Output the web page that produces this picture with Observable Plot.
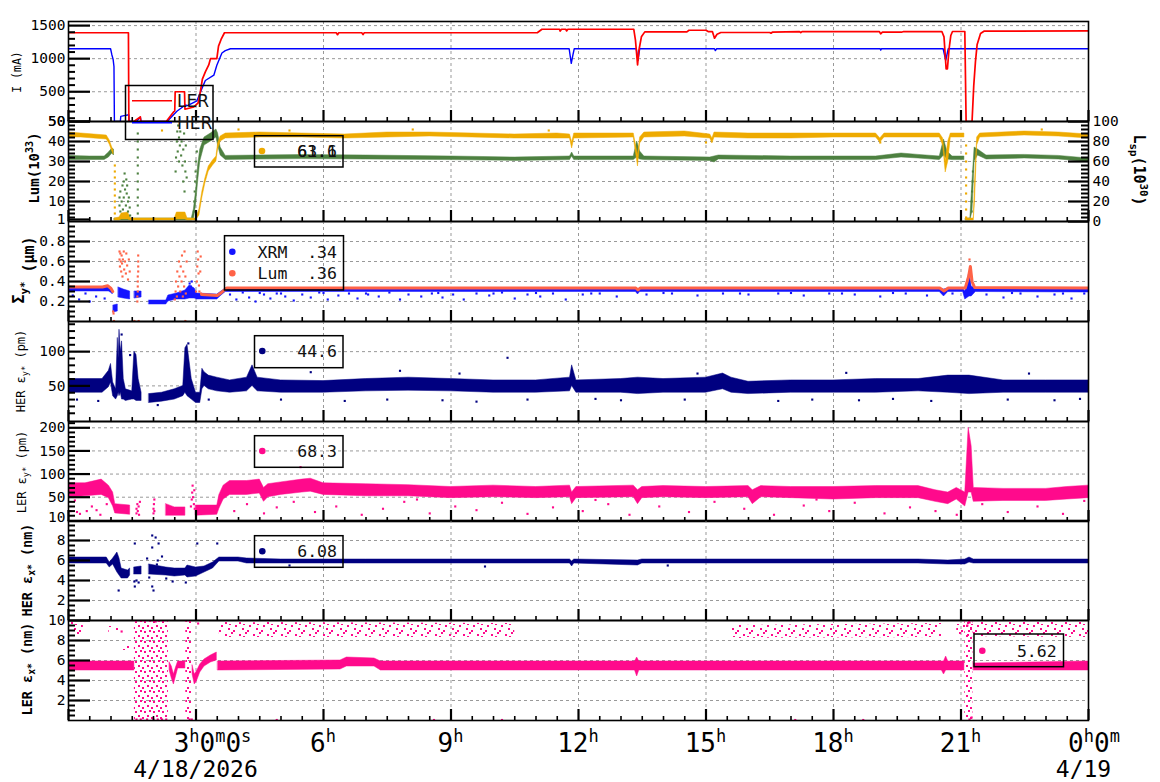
<!DOCTYPE html>
<html><head><meta charset="utf-8">
<script src="https://cdn.jsdelivr.net/npm/d3@7"></script>
<script src="https://cdn.jsdelivr.net/npm/@observablehq/plot@0.6"></script>
<style>
body{margin:0;background:#fff;}
#wrap{position:relative;width:1160px;height:782px;background:#fff;overflow:hidden;}
#wrap svg{position:absolute;left:0;}
</style></head><body>
<svg width="0" height="0" style="position:absolute">
  <defs>
    <pattern id="speckPink" width="14" height="12" patternUnits="userSpaceOnUse">
      <rect x="1" y="2" width="2" height="2" fill="#ff0a8c"/>
      <rect x="7" y="0" width="2" height="2" fill="#ff0a8c"/>
      <rect x="11" y="5" width="2" height="2" fill="#ff0a8c"/>
      <rect x="4" y="8" width="2" height="2" fill="#ff0a8c"/>
      <rect x="9" y="10" width="2" height="2" fill="#ff0a8c"/>
      <rect x="5" y="4" width="2" height="1" fill="#ff0a8c"/>
    </pattern>
    <pattern id="chaosPink" width="9" height="10" patternUnits="userSpaceOnUse">
      <rect x="0" y="1" width="2" height="2" fill="#ff0a8c"/>
      <rect x="5" y="0" width="2" height="2" fill="#ff0a8c"/>
      <rect x="3" y="5" width="2" height="2" fill="#ff0a8c"/>
      <rect x="7" y="7" width="2" height="2" fill="#ff0a8c"/>
    </pattern>
  </defs>
</svg>
<div id="wrap"></div>
<script>
// ---------- DATA (hours since 0h 4/18/2026) ----------
const lerCurrent = [[0,1392],[1.41,1392],[1.42,50],[1.54,50],[1.69,120],[1.70,50],[2.3,50],[2.48,200],[2.5,210],[2.51,500],[2.73,500],[2.74,235],[2.95,270],[3.05,330],[3.1,490],[3.15,690],[3.22,800],[3.3,905],[3.34,1000],[3.49,1000],[3.53,1190],[3.59,1290],[3.67,1392],[6.3,1392],[6.33,1362],[6.36,1392],[6.9,1392],[6.93,1365],[6.96,1392],[11.03,1392],[11.14,1445],[11.55,1445],[11.57,1418],[11.6,1445],[11.7,1445],[11.72,1420],[11.75,1445],[13.3,1445],[13.34,1280],[13.39,905],[13.42,1120],[13.48,1330],[13.56,1405],[14.55,1405],[14.6,1430],[15.0,1430],[15.05,1410],[15.15,1410],[15.2,1310],[15.26,1370],[15.35,1396],[16.5,1396],[16.53,1385],[16.56,1400],[17.2,1410],[17.23,1395],[17.26,1410],[19.08,1410],[19.11,1375],[19.15,1400],[19.6,1400],[19.65,1410],[20.55,1410],[20.6,1330],[20.65,845],[20.68,845],[20.72,1150],[20.76,1350],[20.8,1411],[21.09,1411],[21.12,50],[21.26,50],[21.3,593],[21.34,956],[21.38,1215],[21.46,1380],[21.54,1415],[24,1420]];
const herCurrent = [[0,1150],[0.99,1150],[1.02,1060],[1.05,990],[1.07,880],[1.08,50],[1.22,50],[1.23,127],[1.31,139],[1.42,152],[1.43,50],[1.6,50],[1.69,116],[1.71,50],[2.32,50],[2.55,205],[2.75,300],[2.8,290],[3.02,360],[3.1,490],[3.22,670],[3.42,750],[3.49,900],[3.61,1085],[3.69,1122],[3.81,1150],[11.78,1150],[11.8,1060],[11.83,930],[11.87,1060],[11.9,1150],[13.36,1150],[13.4,975],[13.44,1150],[15.2,1150],[15.22,1122],[15.25,1150],[19.1,1150],[19.11,1130],[19.13,1150],[20.58,1150],[20.64,975],[20.7,1150],[24,1150]];

// luminosity bands [t, low, high]
const lumGold = [[0,42,44.5],[0.3,42,44],[0.6,41.5,43.5],[0.9,41,43],[0.97,38.5,40.5],[1.02,35.5,37.5],[1.06,33.5,35.5],[1.07,NaN,NaN],[1.09,0.5,1.5],[1.2,0.5,2],[1.25,1,4],[1.4,1,4.5],[1.47,0.5,1.5],[2.5,0.5,1.5],[2.55,1,4.5],[2.75,1,4.5],[2.8,0.5,1.5],[3.0,0.5,1.5],[3.08,3,6],[3.15,12,15],[3.22,19,21.5],[3.3,25,27.5],[3.4,28,30.5],[3.48,30,32.5],[3.52,36,39],[3.58,40,42.5],[3.7,41.5,44],[4.5,42,44.5],[5.5,42,44],[6.5,41.5,43.5],[7.5,42,44.5],[8.5,42.5,44.5],[9.5,42,44],[10.5,41.5,43.5],[11.5,41.5,44],[11.8,41.5,43.5],[11.85,36.5,39.5],[11.9,41.5,44],[13.3,42,44],[13.4,27.5,33],[13.45,39,42],[13.55,42,44.5],[14.5,42.5,45],[15.1,41.5,43.5],[15.15,39,41.5],[15.2,42,44.5],[16,41.5,44],[17,41.5,44],[18,42,44],[19,42,44],[19.1,39.5,41.5],[19.2,42,44],[20.5,42,44],[20.58,38,41.5],[20.64,24.5,30],[20.7,30,40],[20.76,42,44],[21.08,42,44],[21.1,NaN,NaN],[21.12,0.5,1.5],[21.3,0.5,1.5],[21.33,10,20],[21.38,38,42],[21.45,42,44],[22.5,43,45],[23.3,42.5,44.5],[24,41.5,43.5]];
const lumGreen = [[0,30.8,32.8],[0.5,30.8,32.5],[0.85,30.8,32.5],[0.95,32,34.5],[1.03,34,36.5],[1.07,33,36],[1.08,NaN,NaN],[1.09,0.5,1.5],[2.9,0.5,1.5],[2.95,1,6],[3.0,8,15],[3.05,20,28],[3.1,30,36],[3.2,38,42],[3.35,40,44],[3.48,42,46],[3.52,38,44],[3.58,33,37],[3.7,30.8,32.8],[5.5,31.2,33.2],[7,31,33],[9,30.7,32.5],[10.5,30.3,32],[11.8,30.7,32.5],[11.85,32.5,34.5],[11.9,30.7,32.5],[13.3,30.7,32.5],[13.38,32,40],[13.45,31,35],[13.55,30.7,32.5],[15.1,30.3,32],[15.2,29.5,32.5],[15.3,31,33],[17,30.7,32.5],[19,30.7,32.5],[19.6,32,34],[20,31.5,33.3],[20.5,30.7,32.5],[20.6,33,41],[20.68,31,35],[20.8,30.7,32.5],[21.08,30.7,32.5],[21.1,NaN,NaN],[21.12,0.5,1.5],[21.22,0.5,1.5],[21.27,5,20],[21.32,30,37],[21.4,33,36],[21.6,31,33],[22.5,31.5,33.3],[23.3,31,32.8],[24,29.8,31.5]];
const goldDots = [[1.09,28],[1.09,25],[1.09,22],[1.09,19],[1.09,16],[1.09,13],[1.09,10],[1.09,7],[1.09,4],[21.12,38],[21.12,34],[21.12,30],[21.12,26],[21.12,22],[21.12,18],[21.12,14],[21.12,10],[21.12,6],[21.12,2],[5.2,45.5],[8.1,46],[11.3,45.5],[15.0,39.5],[19.1,39.5],[22.9,46],[2.2,45.5],[4.0,46]];
const greenDots = [[1.2,8],[1.2,12],[1.22,5],[1.22,15],[1.25,10],[1.27,18],[1.28,6],[1.3,20],[1.3,12],[1.32,24],[1.33,16],[1.35,8],[1.36,21],[1.37,14],[1.38,18],[1.4,10],[1.4,5],[1.42,12],[1.44,7],[1.45,3],[1.63,4],[1.63,8],[1.63,12],[1.63,16],[1.63,20],[1.63,24],[1.63,28],[1.63,32],[1.63,36],[1.63,40],[1.63,44],[2.52,25],[2.53,32],[2.55,40],[2.56,45],[2.57,35],[2.58,48],[2.6,42],[2.6,30],[2.62,38],[2.63,45],[2.65,33],[2.66,40],[2.68,28],[2.7,36],[2.7,20],[2.72,44],[2.73,15],[2.74,30],[2.75,25],[2.76,38],[2.78,22],[2.95,5],[2.96,10],[2.97,15],[2.98,20],[2.99,25],[3.0,30],[3.02,35],[21.25,5],[21.25,10],[21.26,15],[21.27,20],[21.28,25]];

// vertical beam size
const xrmBand = [[0,0.3,0.34],[0.95,0.3,0.34],[1.03,0.28,0.31],[1.04,0.27,0.3],[1.05,NaN,NaN],[1.06,0.09,0.16],[1.16,0.1,0.17],[1.17,NaN,NaN],[1.18,0.24,0.34],[1.3,0.23,0.32],[1.45,0.22,0.3],[1.46,NaN,NaN],[1.56,0.23,0.3],[1.72,0.24,0.3],[1.73,NaN,NaN],[1.9,0.17,0.21],[2.3,0.17,0.21],[2.35,0.2,0.26],[2.55,0.22,0.28],[2.75,0.22,0.31],[2.85,0.23,0.36],[2.97,0.23,0.33],[3.02,0.22,0.28],[3.5,0.22,0.27],[3.6,0.26,0.3],[3.7,0.295,0.33],[6,0.295,0.33],[9,0.295,0.33],[12,0.295,0.33],[13.35,0.295,0.33],[13.4,0.27,0.32],[13.45,0.295,0.33],[17,0.295,0.33],[20.5,0.295,0.33],[20.6,0.25,0.32],[20.7,0.295,0.33],[21.05,0.295,0.33],[21.1,0.22,0.3],[21.2,0.25,0.5],[21.25,0.25,0.35],[21.35,0.295,0.33],[24,0.29,0.33]];
const xrmDots = [[0.1,0.26],[0.25,0.22],[0.4,0.28],[0.5,0.2],[0.65,0.25],[0.85,0.23],[2.85,0.38],[2.9,0.4],[2.88,0.35],[3.8,0.27],[3.95,0.22],[4.1,0.29],[4.25,0.24],[4.4,0.2],[4.6,0.27],[4.75,0.23],[4.9,0.28],[5.1,0.25],[5.3,0.21],[5.5,0.27],[5.7,0.24],[5.9,0.29],[6.1,0.22],[6.35,0.26],[6.6,0.28],[6.8,0.23],[7.05,0.27],[7.3,0.25],[7.55,0.29],[7.8,0.22],[8.0,0.27],[8.3,0.25],[8.55,0.28],[8.8,0.24],[9.05,0.27],[9.3,0.22],[9.6,0.28],[9.9,0.26],[10.2,0.29],[10.5,0.23],[10.8,0.27],[11.1,0.25],[11.4,0.28],[11.7,0.22],[12.1,0.27],[12.5,0.28],[12.9,0.25],[13.6,0.27],[14.2,0.28],[14.8,0.26],[15.4,0.28],[16.0,0.27],[16.7,0.28],[17.3,0.26],[17.9,0.28],[18.5,0.27],[19.1,0.25],[19.7,0.28],[20.2,0.26],[21.6,0.27],[22.0,0.24],[22.4,0.28],[22.8,0.25],[23.2,0.27],[23.6,0.23],[23.9,0.28],[4.5,0.285],[5.0,0.28],[6.0,0.285],[7.0,0.28],[8.7,0.285],[10.0,0.28],[11.0,0.285],[12.3,0.28],[14.0,0.285],[15.8,0.28],[17.0,0.285],[18.2,0.28],[19.4,0.285],[20.8,0.28],[22.2,0.285],[23.4,0.28]];
const lumSigma = [[0,0.345],[0.8,0.345],[0.92,0.358],[1.0,0.33],[1.04,0.3],[1.05,NaN],[3.13,0.27],[3.5,0.26],[3.6,0.29],[3.72,0.335],[13.35,0.335],[13.4,0.315],[13.45,0.335],[20.5,0.335],[20.6,0.305],[20.7,0.335],[21.1,0.335],[21.18,0.45],[21.22,0.55],[21.26,0.4],[21.32,0.34],[24,0.335]];
const lumSigmaDots = [[1.05,0.1],[1.06,0.08],[1.2,0.7],[1.2,0.62],[1.21,0.55],[1.22,0.68],[1.23,0.6],[1.24,0.5],[1.25,0.66],[1.26,0.58],[1.27,0.45],[1.28,0.62],[1.3,0.7],[1.31,0.52],[1.33,0.6],[1.35,0.48],[1.36,0.68],[1.38,0.56],[1.4,0.42],[1.42,0.62],[1.44,0.5],[1.62,0.2],[1.62,0.25],[1.63,0.3],[1.63,0.35],[1.63,0.4],[1.63,0.45],[1.64,0.5],[1.64,0.55],[1.64,0.6],[1.64,0.66],[2.5,0.22],[2.52,0.3],[2.53,0.4],[2.55,0.25],[2.56,0.5],[2.58,0.35],[2.6,0.6],[2.61,0.45],[2.63,0.3],[2.64,0.55],[2.66,0.4],[2.67,0.66],[2.69,0.25],[2.7,0.5],[2.72,0.35],[2.73,0.7],[2.75,0.45],[2.76,0.28],[2.78,0.6],[3.0,0.3],[3.02,0.4],[3.03,0.55],[3.04,0.7],[3.05,0.62],[3.06,0.48],[3.07,0.36],[3.08,0.3],[3.1,0.5],[3.11,0.65],[3.12,0.28],[1.07,0.005],[1.55,0.005],[1.65,0.005],[2.75,0.005],[21.2,0.62],[21.21,0.48]];

// HER vertical emittance (pm)
const herEyBand = [[0,40,60],[0.8,40,60],[0.95,48,72],[1.0,55,82],[1.05,35,55],[1.12,30,45],[1.16,35,120],[1.18,40,90],[1.2,35,132],[1.23,40,100],[1.26,30,115],[1.3,30,60],[1.35,28,45],[1.5,30,42],[1.55,30,100],[1.6,28,95],[1.65,28,60],[1.72,28,40],[1.73,NaN,NaN],[1.9,25,38],[2.2,27,40],[2.5,30,45],[2.7,35,50],[2.75,40,105],[2.8,35,110],[2.9,30,60],[3.0,25,40],[3.1,25,40],[3.15,45,75],[3.2,50,70],[3.3,45,65],[3.5,42,62],[3.8,40,58],[4.2,42,62],[4.33,50,80],[4.45,42,62],[5,40,58],[6,40,57],[7,42,60],[8,43,62],[9,42,60],[10,40,58],[11,40,58],[11.8,42,62],[11.85,50,80],[11.95,40,58],[13,40,60],[13.4,38,62],[14,40,60],[15,40,62],[15.4,45,68],[15.6,40,62],[16,38,56],[17,40,58],[18,40,58],[19,40,60],[20,42,60],[20.7,40,65],[21.2,38,65],[22,40,58],[23,40,58],[24,40,58]];
const herEyDots = [[10.33,91],[0.2,30],[0.7,28],[2.1,22],[3.3,30],[5,30],[6.5,28],[7.5,30],[8.8,29],[9.6,27],[10.8,30],[12.4,31],[13,29],[14.5,30],[16.7,28],[17.5,30],[18.6,29],[19.4,31],[20.3,28],[22.1,30],[23.2,29],[23.8,31],[5.7,70],[7.8,72],[9.2,68],[14.8,68],[22.6,68],[18.3,69],[1.45,95],[1.25,125],[2.82,112]];

// LER vertical emittance (pm)
const lerEyBand = [[0,50,80],[0.4,52,80],[0.78,55,88],[0.95,48,75],[1.05,30,60],[1.1,15,35],[1.45,12,32],[1.46,NaN,NaN],[2.3,10,35],[2.5,10,28],[2.75,10,28],[2.76,NaN,NaN],[3.0,10,32],[3.5,12,32],[3.55,25,55],[3.65,45,75],[3.8,55,85],[4.2,55,85],[4.5,58,88],[4.6,40,70],[4.7,50,78],[5,55,82],[5.5,60,88],[5.7,62,90],[6,55,80],[7,52,78],[8,52,76],[9,48,72],[10,50,75],[11,48,72],[11.8,50,75],[11.85,35,60],[11.95,48,72],[13.3,50,75],[13.4,35,65],[13.5,48,72],[14,50,74],[15,48,72],[16,50,74],[16.1,35,65],[16.3,50,74],[17,48,72],[18,45,72],[19,48,74],[20,48,74],[20.4,40,65],[20.7,35,60],[20.9,45,70],[21.1,30,60],[21.18,60,200],[21.25,60,160],[21.3,40,70],[22,42,68],[23,42,68],[23.5,45,72],[24,48,75]];
const lerEyDots = [[0.05,20],[0.15,43],[0.2,18],[0.27,14],[0.43,20],[0.55,30],[0.66,22],[0.75,12],[0.9,35],[1.6,15],[1.6,25],[1.62,35],[1.63,20],[1.65,30],[1.66,12],[1.68,40],[2.0,15],[2.0,25],[2.01,35],[2.02,45],[2.02,20],[2.88,30],[2.9,45],[2.91,60],[2.92,75],[2.93,50],[2.95,35],[2.96,65],[2.97,25],[3.9,20],[4.2,35],[4.6,15],[4.9,28],[5.3,40],[5.46,115],[5.8,18],[6.3,30],[6.9,12],[7.4,25],[7.9,40],[8.5,15],[9.1,30],[9.6,22],[10.2,38],[10.8,14],[11.4,28],[12.1,20],[12.7,35],[13.2,12],[13.9,30],[14.6,18],[15.2,40],[15.9,25],[16.6,12],[17.3,32],[17.9,20],[18.5,38],[19.2,15],[19.8,28],[20.4,20],[20.9,12],[21.5,35],[22.1,18],[22.8,30],[23.4,14],[23.9,42],[8.2,45],[12.4,44],[17.6,45]];

// HER horizontal emittance (nm)
const herExBand = [[0,5.7,6.3],[0.9,5.7,6.3],[0.97,5.3,5.8],[1.05,5.6,6.2],[1.15,4.8,6.8],[1.2,4.5,6.2],[1.25,4.2,5.2],[1.4,4.2,5.0],[1.45,4.5,5.2],[1.5,NaN,NaN],[1.55,4.6,5.3],[1.72,4.6,5.4],[1.73,NaN,NaN],[1.9,4.6,5.6],[2.3,4.5,5.3],[2.5,4.4,5.2],[2.75,4.5,5.2],[2.8,4.3,5.5],[3.0,4.4,5.3],[3.2,4.8,5.4],[3.4,5.2,5.8],[3.55,5.9,6.3],[4.0,5.9,6.3],[4.2,5.7,6.2],[5,5.7,6.1],[7,5.7,6.1],[9,5.7,6.1],[11.8,5.7,6.1],[11.85,5.4,5.9],[11.9,5.7,6.1],[13.4,5.5,6.0],[13.5,5.7,6.1],[16,5.7,6.1],[20,5.7,6.1],[20.7,5.6,6.0],[21.1,5.6,6.1],[21.2,5.8,6.3],[21.3,5.7,6.1],[24,5.7,6.1]];
const herExDots = [[1.18,3.0],[1.56,7.7],[1.97,8.5],[2.05,8.3],[1.97,7.3],[2.12,7.7],[2.2,6.4],[1.9,4.3],[1.97,3.4],[2.0,3.0],[1.56,3.4],[1.55,3.9],[3.03,7.7],[2.76,3.8],[3.5,7.7],[2.08,5.6],[1.6,4.0],[1.65,3.8],[1.85,6.2],[2.1,6.0],[2.3,4.2],[2.45,3.9],[5.2,5.5],[9.8,5.4],[14.1,5.5]];

// LER horizontal emittance (nm)
const lerExBand = [[0,5.0,5.9],[1.55,5.0,5.9],[1.56,NaN,NaN],[2.38,5.0,5.8],[2.43,4.2,5.4],[2.48,3.6,4.6],[2.53,4.4,5.3],[2.58,5.2,5.9],[2.75,5.2,5.9],[2.76,NaN,NaN],[2.92,4.6,5.5],[2.97,3.6,4.6],[3.02,3.9,4.9],[3.1,4.8,5.6],[3.2,5.4,6.1],[3.35,5.8,6.5],[3.49,6.0,6.8],[3.5,NaN,NaN],[3.52,5.0,5.9],[6.4,5.1,6.0],[6.55,5.4,6.3],[7.2,5.4,6.2],[7.35,5.0,5.9],[13.33,5.0,5.9],[13.38,4.4,6.3],[13.43,5.0,5.9],[20.55,5.0,5.9],[20.6,4.6,5.9],[20.65,5.0,6.4],[20.7,5.0,5.9],[21.08,5.0,5.9],[21.09,NaN,NaN],[21.3,5.0,5.7],[24,5.0,5.9]];
const lerExSparse = [[0,8.6,9.8],[0.35,8.6,9.8],[0.36,NaN,NaN],[0.95,8.7,9.4],[1.2,8.7,9.4],[1.21,NaN,NaN],[1.28,7.0,7.5],[1.45,7.0,7.5],[1.46,NaN,NaN],[3.55,8.3,9.8],[10.5,8.3,9.7],[10.51,NaN,NaN],[15.6,8.2,9.5],[20.55,8.3,9.7],[20.56,NaN,NaN],[20.9,8.4,9.8],[24,8.3,9.8]];
const lerExChaos = [[1.55,0,10],[2.35,0,10],[2.36,NaN,NaN],[2.76,0,10],[2.9,0,10],[2.91,NaN,NaN],[21.09,0,10],[21.28,0,10]];
const lerExDots = [[1.6,0.1],[1.7,0.1],[1.85,0.1],[2.0,0.1],[2.1,0.1],[2.2,0.1],[2.3,0.1],[2.85,0.1],[2.9,0.1],[4.9,0.05],[21.2,0.1],[21.25,0.3],[17.1,0.05],[18.7,0.05],[8.6,0.05],[9.0,0.05],[10.2,0.05],[21.2,9.8],[21.15,9.5],[1.25,8.9],[3.05,9.7],[2.05,9.9]];

// axes
const hoursGrid = [3,6,9,12,15,18,21];
const hoursMajor = [0,3,6,9,12,15,18,21,24];
const hoursMinor = [0.5,1,1.5,2,2.5,3.5,4,4.5,5,5.5,6.5,7,7.5,8,8.5,9.5,10,10.5,11,11.5,12.5,13,13.5,14,14.5,15.5,16,16.5,17,17.5,18.5,19,19.5,20,20.5,21.5,22,22.5,23,23.5];

const C = {ler:"#ff0000", her:"#0000ff", gold:"#eeaa00", green:"#4d8040", xrm:"#1414ff", tomato:"#ff6347", navy:"#000080", pink:"#ff0a8c"};

const FW = 1020;
const wrap = document.getElementById("wrap");
const band = (data, fill, extra={}) => Plot.areaY(data, {x:d=>d[0], y1:d=>d[1], y2:d=>d[2], fill, stroke:fill, strokeWidth:0.5, clip:true, ...extra});
const dots = (data, fill, r=1.2) => Plot.dot(data, {x:d=>d[0], y:d=>d[1], fill, r, symbol:"square", clip:true});

let lastPlot;
function panel({top, domain, ticks, minor, grid, marks, mb=0, extra=[]}) {
  const p = Plot.plot({
    width:1160, height:100+mb,
    marginLeft:68, marginRight:72, marginTop:0, marginBottom:mb,
    x:{domain:[0,24], axis:null},
    y:{domain, axis:null},
    style:{overflow:"visible", background:"transparent", fontFamily:"'DejaVu Sans Mono', monospace", color:"black"},
    marks:[
      Plot.gridX(hoursGrid, {stroke:"#999", strokeOpacity:1, strokeDasharray:"3,3", strokeWidth:1}),
      Plot.gridY(grid, {stroke:"#999", strokeOpacity:1, strokeDasharray:"3,3", strokeWidth:1}),
      ...marks,
      Plot.tickY(ticks, {y:d=>d, insetRight:FW-22, stroke:"black", strokeWidth:2.2}),
      Plot.tickY(minor, {y:d=>d, insetRight:FW-7, stroke:"black", strokeWidth:2}),
      Plot.tickX(hoursMajor, {x:d=>d, insetTop:100-11, stroke:"black", strokeWidth:2.2}),
      Plot.tickX(hoursMinor, {x:d=>d, insetTop:100-4, stroke:"black", strokeWidth:1.6}),
      Plot.axisY(ticks, {tickSize:0, tickPadding:3, fontSize:14.5, label:null, tickFormat:d=>String(d)}),
      ...extra,
      Plot.frame({stroke:"black", strokeWidth:1.6})
    ]
  });
  p.style.top = top + "px";
  wrap.appendChild(p);
  lastPlot = p;
  return p;
}

// Panel 1: currents
panel({top:21, domain:[50,1562], ticks:[50,500,1000,1500], minor:[100,200,300,400,600,700,800,900,1100,1200,1300,1400],
  grid:[500,1000,1500],
  marks:[
    Plot.line(herCurrent, {x:d=>d[0], y:d=>d[1], stroke:C.her, strokeWidth:1.4, clip:true}),
    Plot.line(lerCurrent, {x:d=>d[0], y:d=>d[1], stroke:C.ler, strokeWidth:1.7, clip:true})
  ]});

// Panel 2: luminosity
const lspTicks = [0,20,40,60,80,100];
const lspMinor = [4,8,12,16,24,28,32,36,44,48,52,56,64,68,72,76,84,88,92,96];
panel({top:121, domain:[0,50], ticks:[1,10,20,30,40,50], minor:[2,4,6,8,12,14,16,18,22,24,26,28,32,34,36,38,42,44,46,48],
  grid:[10,20,30,40],
  marks:[band(lumGreen, C.green), band(lumGold, C.gold), dots(greenDots, C.green), dots(goldDots, C.gold)],
  extra:[
    Plot.tickY(lspTicks, {y:d=>d/2, insetLeft:FW-20, stroke:"black", strokeWidth:2.2}),
    Plot.tickY(lspMinor, {y:d=>d/2, insetLeft:FW-7, stroke:"black", strokeWidth:2}),
    Plot.text(lspTicks, {y:d=>d/2, text:d=>String(d), frameAnchor:"right", textAnchor:"start", dx:4, fontSize:14.5})
  ]});

// Panel 3: sigma y*
panel({top:221, domain:[0,1], ticks:[0.2,0.4,0.6,0.8], minor:[0.05,0.1,0.15,0.25,0.3,0.35,0.45,0.5,0.55,0.65,0.7,0.75,0.85,0.9,0.95],
  grid:[0.2,0.4,0.6,0.8],
  marks:[band(xrmBand, C.xrm), dots(xrmDots, C.xrm), dots(lumSigmaDots, C.tomato),
    Plot.line(lumSigma, {x:d=>d[0], y:d=>d[1], stroke:C.tomato, strokeWidth:3, clip:true})]});

// Panel 4: HER ey*
panel({top:321, domain:[-2,144], ticks:[50,100], minor:[10,20,30,40,60,70,80,90,110,120,130,140],
  grid:[50,100],
  marks:[band(herEyBand, C.navy), dots(herEyDots, C.navy)]});

// Panel 5: LER ey*
panel({top:421, domain:[-2.5,213.6], ticks:[50,100,150,200], minor:[10,20,30,40,60,70,80,90,110,120,130,140,160,170,180,190,210],
  grid:[50,100,150,200],
  marks:[band(lerEyBand, C.pink), dots(lerEyDots, C.pink)],
  extra:[Plot.text(["10"], {text:d=>d, frameAnchor:"bottom-left", textAnchor:"end", dx:-3, fontSize:14.5})]});

// Panel 6: HER ex*
panel({top:520, domain:[0,10], ticks:[2,4,6,8], minor:[0.5,1,1.5,2.5,3,3.5,4.5,5,5.5,6.5,7,7.5,8.5,9,9.5],
  grid:[2,4,6,8],
  marks:[band(herExBand, C.navy), dots(herExDots, C.navy)]});

// Panel 7: LER ex*
panel({top:620, domain:[0,10], ticks:[2,4,6,8,10], minor:[0.5,1,1.5,2.5,3,3.5,4.5,5,5.5,6.5,7,7.5,8.5,9,9.5],
  grid:[2,4,6,8], mb:62,
  marks:[band(lerExChaos, "url(#chaosPink)", {stroke:"none"}), band(lerExSparse, "url(#speckPink)", {stroke:"none"}),
    band(lerExBand, C.pink), dots(lerExDots, C.pink)]});

// ---------- overlay: titles, time labels, legends ----------
const X = t => lastPlot.scale("x").apply(t);
const NS = "http://www.w3.org/2000/svg";
function rich(parts, base, small) {
  let s = "", cur = 0;
  for (const [txt, k] of parts) {
    const dy = k===cur ? 0 : (cur===0 ? (k===1 ? -base*0.4 : base*0.25) : (k===0 ? (cur===1 ? base*0.4 : -base*0.25) : 0));
    const fs = k===0 ? base : small;
    s += `<tspan dy="${dy}" font-size="${fs}">${txt}</tspan>`;
    cur = k;
  }
  return s;
}
let ov = "";
function vlabel(cx, cy, rot, parts, size, weight) {
  ov += `<text transform="translate(${cx},${cy}) rotate(${rot})" text-anchor="middle" dy="0.35em" font-weight="${weight}" style="white-space:pre">${rich(parts, size, size*0.72)}</text>`;
}
vlabel(21, 72, -90, [["I",0],[" (mA)",0]], 11.5, "normal");
vlabel(39, 168, -90, [["Lum(10",0],["33",1],[")",0]], 14, "bold");
vlabel(24, 270, -90, [["Σ",0],["y",-1],["*",1],[" (µm)",0]], 15, "bold");
vlabel(25, 371, -90, [["HER ε",0],["y*",-1],[" (pm)",0]], 12, "normal");
vlabel(26, 472, -90, [["LER ε",0],["y*",-1],[" (pm)",0]], 12, "normal");
vlabel(32, 570, -90, [["HER ε",0],["x*",-1],[" (nm)",0]], 13.5, "bold");
vlabel(32, 669, -90, [["LER ε",0],["x*",-1],[" (nm)",0]], 13.5, "bold");
vlabel(1134, 170, 90, [["L",0],["sp",-1],["(10",0],["30",1],[")",0]], 15, "bold");

const timeLabels = [[3,[["3",0],["h",1],["0",0],["m",1],["0",0],["s",1]],17],[6,[["6",0],["h",1]],0],[9,[["9",0],["h",1]],0],[12,[["12",0],["h",1]],0],[15,[["15",0],["h",1]],0],[18,[["18",0],["h",1]],0],[21,[["21",0],["h",1]],0],[24,[["0",0],["h",1],["0",0],["m",1]],6]];
const dateLabels = [[3,"4/18/2026",0],[24,"4/19",-4.5]];
for (const [t, parts, off] of timeLabels) {
  ov += `<text x="${X(t)+off}" y="752" text-anchor="middle">${rich(parts, 26, 17)}</text>`;
}
for (const [t, s, off] of dateLabels) ov += `<text x="${X(t)+off}" y="777" text-anchor="middle" font-size="23">${s}</text>`;

// legends
const box = (x,y,w,h) => ov += `<rect x="${x}" y="${y}" width="${w}" height="${h}" fill="none" stroke="black" stroke-width="1.5"/>`;
const dot = (x,y,c) => ov += `<circle cx="${x}" cy="${y}" r="3.3" fill="${c}"/>`;
const ltxt = (x,y,s,anchor="end") => ov += `<text x="${x}" y="${y}" text-anchor="${anchor}" font-size="16.5" fill="#111" style="white-space:pre">${s}</text>`;
box(125.5,85.5,87.5,54);
ov += `<line x1="132" x2="172" y1="100.7" y2="100.7" stroke="${C.ler}" stroke-width="1.6"/>`;
ov += `<line x1="132" x2="172" y1="122.7" y2="122.7" stroke="${C.her}" stroke-width="1.4"/>`;
ov += `<text x="177" y="107" font-family="DejaVu Sans" font-size="17" fill="#111">LER</text>`;
ov += `<text x="177" y="129" font-family="DejaVu Sans" font-size="17" fill="#111">HER</text>`;
box(254.5,135.7,88.5,31.3); dot(262,151,C.gold); ltxt(337,157,"63.1"); ltxt(337,157,"61.6");
box(224.5,235.7,119,54.3); dot(232.3,251.7,C.xrm); dot(232.3,273.3,C.tomato); ltxt(337,257.5,"XRM  .34"); ltxt(337,279,"Lum  .36");
box(254.5,335.7,88.5,32); dot(262.3,351,C.navy); ltxt(337,357,"44.6");
box(254.5,435.7,88.5,31.6); dot(262.3,451,C.pink); ltxt(337,457,"68.3");
box(254.5,535.7,88.5,31.6); dot(262.3,551.3,C.navy); ltxt(337,557,"6.08");
box(974,634,89.5,32.7); dot(982.3,650.7,C.pink); ltxt(1056.7,656.5,"5.62");

const ovs = document.createElementNS(NS, "svg");
ovs.setAttribute("width","1160"); ovs.setAttribute("height","782");
ovs.setAttribute("style","top:0;left:0;font-family:'DejaVu Sans Mono',monospace;fill:black;pointer-events:none");
ovs.innerHTML = ov;
wrap.appendChild(ovs);
</script>
</body></html>
